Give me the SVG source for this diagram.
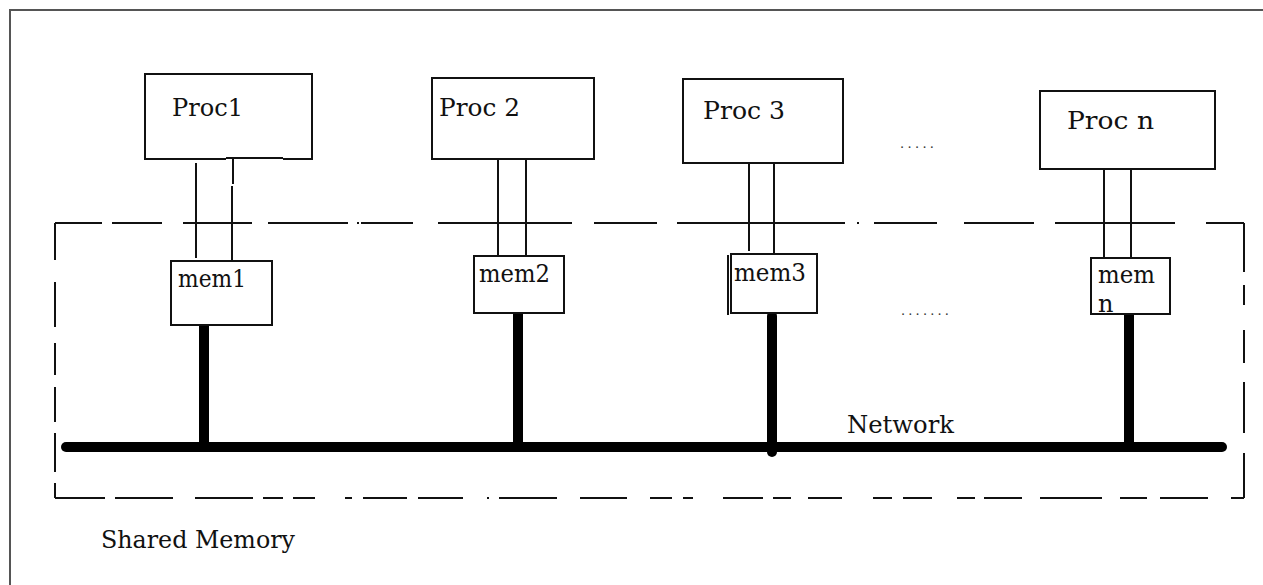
<svg xmlns="http://www.w3.org/2000/svg" width="1263" height="585" viewBox="0 0 1263 585">
  <style>
    .box { fill: #fff; stroke: #111; stroke-width: 2; }
    .wire { fill: none; stroke: #111; stroke-width: 2; }
    .bus { fill: none; stroke: #000; stroke-width: 10; }
    .dash { fill: none; stroke: #111; stroke-width: 2; }
    .lbl { font-family: "DejaVu Serif", "Liberation Serif", serif; font-size: 24px; fill: #111; }
    .dots { font-family: "DejaVu Serif", "Liberation Serif", serif; font-size: 13px; fill: #333; }
  </style>

  <rect width="1263" height="585" fill="#fff"/>

  <!-- outer frame -->
  <path d="M10,585 V10 H1263" fill="none" stroke="#555" stroke-width="2"/>

  <!-- shared memory region (irregular dash-dot outline) -->
  <g id="shared-region" class="dash">
    <path d="M55,223 H102 M112,223 H162 M183,223 H252 M268,223 H348 M357,223 H359 M361,223 H413 M438,223 H572 M594,223 H657 M677,223 H845 M857,223 H859 M874,223 H937 M964,223 H1034 M1055,223 H1175 M1206,223 H1244"/>
    <path d="M55,223 V260 M55,282 V327 M55,343 V375 M55,387 V422 M55,433 V472 M55,483 V498"/>
    <path d="M1244,223 V272 M1244,285 V305 M1244,330 V363 M1244,382 V433 M1244,453 V498"/>
    <path d="M55,498 H105 M115,498 H173 M195,498 H253 M263,498 H283 M293,498 H315 M345,498 H352 M363,498 H407 M418,498 H463 M487,498 H489 M499,498 H557 M580,498 H627 M650,498 H672 M683,498 H693 M723,498 H763 M773,498 H791 M808,498 H842 M873,498 H892 M903,498 H932 M957,498 H975 M984,498 H1022 M1040,498 H1102 M1120,498 H1147 M1160,498 H1208 M1231,498 H1244"/>
  </g>

  <!-- connectors -->
  <g id="connectors">
    <!-- processor to memory links -->
    <path class="wire" d="M196,163 V258 M233,158 V184 M232,186 V261"/>
    <path class="wire" d="M498,159 V256 M526,159 V256"/>
    <path class="wire" d="M749,163 V251 M774,163 V254"/>
    <path class="wire" d="M1104,167 V258 M1131,169 V258"/>
    <!-- memory drops onto the network bus -->
    <path class="bus" d="M204,320 V447" stroke-linecap="round"/>
    <path class="bus" d="M518,313 V447"/>
    <path class="bus" d="M772,316 V452" stroke-linecap="round"/>
    <path class="bus" d="M1129,314 V447" stroke-linecap="round"/>
    <rect x="1129" y="338" width="5" height="25" fill="#000"/>
    <!-- network bus -->
    <path class="bus" d="M66,447 H1222" stroke-linecap="round"/>
  </g>

  <!-- processors -->
  <g id="proc1">
    <rect x="145" y="74" width="167" height="85" fill="#fff"/>
    <path class="wire" d="M226,159 H145 V74 H312 V159 H283 M283,158 H226"/>
    <text class="lbl" x="172" y="116" textLength="71" lengthAdjust="spacingAndGlyphs">Proc1</text>
  </g>
  <g id="proc2">
    <rect class="box" x="432" y="78" width="162" height="81"/>
    <text class="lbl" x="439" y="116" textLength="81" lengthAdjust="spacingAndGlyphs">Proc 2</text>
  </g>
  <g id="proc3">
    <rect class="box" x="683" y="79" width="160" height="84"/>
    <text class="lbl" x="703" y="119" textLength="82" lengthAdjust="spacingAndGlyphs">Proc 3</text>
  </g>
  <g id="procn">
    <rect class="box" x="1040" y="91" width="175" height="78"/>
    <text class="lbl" x="1067" y="129" textLength="87" lengthAdjust="spacingAndGlyphs">Proc n</text>
  </g>
  <text class="dots" x="900" y="148" textLength="34" lengthAdjust="spacing">.....</text>

  <!-- memories -->
  <g id="mem1">
    <rect class="box" x="171" y="261" width="101" height="64"/>
    <text class="lbl" x="178" y="287" textLength="68" lengthAdjust="spacingAndGlyphs">mem1</text>
  </g>
  <g id="mem2">
    <rect class="box" x="474" y="256" width="90" height="57"/>
    <text class="lbl" x="479" y="282" textLength="71" lengthAdjust="spacingAndGlyphs">mem2</text>
  </g>
  <g id="mem3">
    <rect class="box" x="731" y="254" width="86" height="59"/>
    <path class="wire" d="M728,255 V315"/>
    <text class="lbl" x="734" y="281" textLength="72" lengthAdjust="spacingAndGlyphs">mem3</text>
  </g>
  <g id="memn">
    <rect class="box" x="1091" y="258" width="79" height="56"/>
    <text class="lbl" x="1098" y="283" textLength="57" lengthAdjust="spacingAndGlyphs">mem</text>
    <text class="lbl" x="1098" y="312">n</text>
  </g>
  <text class="dots" x="901" y="315" textLength="48" lengthAdjust="spacing">.......</text>

  <!-- labels -->
  <text id="network-label" class="lbl" x="847" y="433" textLength="107" lengthAdjust="spacingAndGlyphs">Network</text>
  <text id="shared-label" class="lbl" x="101" y="548" textLength="194" lengthAdjust="spacingAndGlyphs">Shared Memory</text>
</svg>
